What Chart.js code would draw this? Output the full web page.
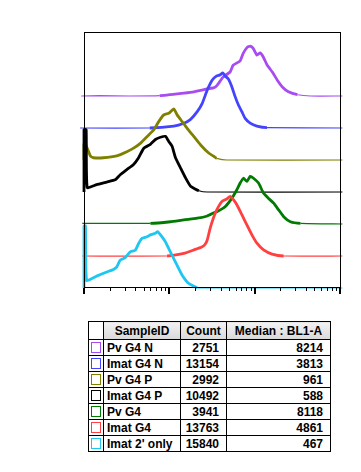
<!DOCTYPE html>
<html><head><meta charset="utf-8">
<script src="https://cdn.jsdelivr.net/npm/chart.js@4/dist/chart.umd.min.js"></script>
<style>
html,body{margin:0;padding:0;background:#fff;}
#wrap{position:relative;width:361px;height:472px;overflow:hidden;}
#c{position:absolute;left:0;top:0;}
table{position:absolute;left:88px;top:321px;border-collapse:collapse;table-layout:fixed;width:242px;
 font-family:"Liberation Sans",Arial,sans-serif;font-weight:bold;font-size:12px;color:#000;}
td,th{border:1px solid #000;padding:0 3px;white-space:nowrap;overflow:hidden;box-sizing:border-box;}
th{height:18px;background:linear-gradient(#f2f2f2,#d9d9d9);text-align:center;font-weight:bold;}
th.blank{background:#fff;}
td{height:16px;line-height:14px;}
td.num{text-align:right;padding-right:7px;}
td.box{text-align:center;padding:0;}
.sq{display:inline-block;width:8px;height:9px;border:1px solid #000;vertical-align:middle;margin-top:-2px;}
</style></head>
<body><div id="wrap"><canvas id="c" width="361" height="300"></canvas>
<table id="t"><colgroup><col style="width:15px"><col style="width:77px"><col style="width:46px"><col style="width:104px"></colgroup>
<thead><tr><th class="blank"></th><th>SampleID</th><th>Count</th><th>Median : BL1-A</th></tr></thead><tbody id="tb"></tbody></table>
</div>
<script>
// ---- data ----
const categories = ["Pv G4 N","Imat G4 N","Pv G4 P","Imat G4 P","Pv G4","Imat G4","Imat 2' only"];
const counts = [2751,13154,2992,10492,3941,13763,15840];
const medians = [8214,3813,961,588,8118,4861,467];
const colors = ["#A84CF2","#4444FF","#808000","#000000","#007A00","#FF4040","#1EC6F2"];

// BL1-A intensity (x) and histogram height (y, in offset units) per sample
const pvG4N_x = [93,151,342,771,1479,1941,2784,3339,3623,4262,5152,5591,6760,7333,8170,8867,9616,10630,11630,12617,14060,16100,18450,21130,24860,31730,45150,106700];
const pvG4N_y = [0,0.01,0,0.01,0.09,0.13,0.22,0.26,0.33,0.59,0.75,0.96,1.10,1.33,1.52,1.56,1.49,1.28,1.35,1.22,0.96,0.75,0.49,0.28,0.13,0.04,0,0];

const imatG4N_x = [90,588,1128,1479,1774,2122,2430,2784,3188,3593,3929,4227,4500,4920,5397,5902,6455,7079,7742,8867,10630,13950,106700];
const imatG4N_y = [0,0,0.06,0.15,0.27,0.51,0.77,1.19,1.50,1.63,1.66,1.72,1.63,1.53,1.29,0.98,0.72,0.51,0.30,0.15,0.06,0.01,0];

const pvG4P_x = [100,100,103.6,111.4,118.6,129.8,168.8,242.2,317.6,380.9,456.9,546.6,655.5,750.9,860.1,984.7,1128,1234,1413,1618,1941,2327,2915,3339,3593,4710,106700];
const pvG4P_y = [0,0.5,0.5,0.31,0.13,0.07,0.07,0.13,0.26,0.37,0.52,0.73,0.94,1.20,1.41,1.46,1.60,1.41,1.20,0.99,0.73,0.47,0.21,0.11,0.05,0,0];

const imatG4P_x = [100,100,106,109,140.8,184.7,232,265.6,317.6,380.9,436.3,499.6,599.5,686.5,786.4,900.7,984.7,1077,1181,1353,1549,1774,2222,2784,106700];
const imatG4P_y = [0,1.95,1.95,0.14,0.23,0.31,0.38,0.54,0.70,0.86,1.07,1.36,1.49,1.64,1.71,1.74,1.58,1.43,1.07,0.75,0.44,0.18,0.04,0,0];

const pvG4_x = [95.5,599.5,1031,1479,2122,2784,3339,3593,4500,5397,6181,6760,7393,8104,8867,9696,11100,12720,14570,16690,19110,21880,26240,34430,106700];
const pvG4_y = [0.02,0.02,0.07,0.13,0.18,0.25,0.35,0.38,0.54,0.80,1.07,1.28,1.43,1.33,1.49,1.43,1.28,0.96,0.80,0.65,0.44,0.23,0.07,0.02,0];

const imatG4_x = [95.5,940.7,1479,1941,2430,2616,2784,2995,3276,3593,4115,4710,5152,5636,6181,7079,8104,9284,10630,12720,15970,21880,106700];
const imatG4_y = [0,0,0.08,0.19,0.29,0.36,0.50,0.85,1.18,1.44,1.70,1.78,1.86,1.76,1.60,1.29,0.97,0.66,0.40,0.19,0.06,0,0];

const imat2_x = [100,100,104,107.3,140.8,184.7,221.4,242.2,265.6,304.1,348.4,399.0,436.3,477.2,546.6,599.5,686.5,730.8,821.2,900.7,984.7,1077,1234,1413,1694,2122,2616,106700];
const imat2_y = [0,1.94,1.94,0.24,0.37,0.50,0.58,0.66,0.87,0.95,1.13,1.18,1.39,1.55,1.60,1.66,1.71,1.76,1.60,1.44,1.23,1.02,0.71,0.40,0.14,0.01,0,0];

const seriesX = [pvG4N_x,imatG4N_x,pvG4P_x,imatG4P_x,pvG4_x,imatG4_x,imat2_x];
const seriesY = [pvG4N_y,imatG4N_y,pvG4P_y,imatG4P_y,pvG4_y,imatG4_y,imat2_y];

// ---- table ----
const tb = document.getElementById('tb');
categories.forEach((name,i)=>{
  const tr=document.createElement('tr');
  tr.innerHTML='<td class="box"><span class="sq" style="border-color:'+colors[i]+'"></span></td>'+
    '<td>'+name+'</td><td class="num">'+counts[i]+'</td><td class="num">'+medians[i]+'</td>';
  tb.appendChild(tr);
});

// ---- chart ----
const n = categories.length;
const datasets = categories.map((name,i)=>{
  const off = n-1-i;
  const xs=seriesX[i], ys=seriesY[i];
  return {
    label:name,
    data: xs.map((x,k)=>({x:x, y:ys[k]+off})),
    borderColor: colors[i],
    borderWidth: 2.8,
    pointRadius:0,
    tension:0.15,
    fill:false,
    clip:false,
    order: off,
    segment:{
      borderWidth: c => (Math.abs(c.p0.parsed.y-off)<0.05 && Math.abs(c.p1.parsed.y-off)<0.05) ? 1.2 : 2.8
    }
  };
});

const frameTicks = {
  id:'frameTicks',
  afterDatasetsDraw(chart){
    const {ctx, chartArea:a} = chart;
    const xs = chart.scales.x;
    ctx.save();
    ctx.strokeStyle='#000';
    ctx.lineWidth=1;
    ctx.strokeRect(a.left+0.5, a.top+0.5, a.right-a.left, a.bottom-a.top-1);
    const tickVals=[];
    for(let d=100; d<100000; d*=10){ for(let m=1;m<10;m++) tickVals.push(d*m); }
    tickVals.push(100000);
    tickVals.forEach(v=>{
      const major = Math.abs(Math.log10(v)-Math.round(Math.log10(v)))<1e-9;
      let px = xs.getPixelForValue(v);
      ctx.beginPath();
      ctx.lineWidth = major?2:1;
      px = major ? Math.round(px) : Math.round(px)+0.5;
      if (major && px>=a.right-1) px = a.right;
      ctx.moveTo(px, a.bottom);
      ctx.lineTo(px, a.bottom + (major?6:3));
      ctx.stroke();
    });
    ctx.restore();
  }
};

new Chart(document.getElementById('c'),{
  type:'line',
  data:{datasets},
  options:{
    responsive:false,
    animation:false,
    layout:{padding:{left:84,right:21,top:32,bottom:12}},
    plugins:{legend:{display:false},tooltip:{enabled:false}},
    scales:{
      x:{type:'logarithmic',min:100,max:100000,display:false},
      y:{type:'linear',min:0,max:8,display:false}
    }
  },
  plugins:[frameTicks]
});
</script>
</body></html>
